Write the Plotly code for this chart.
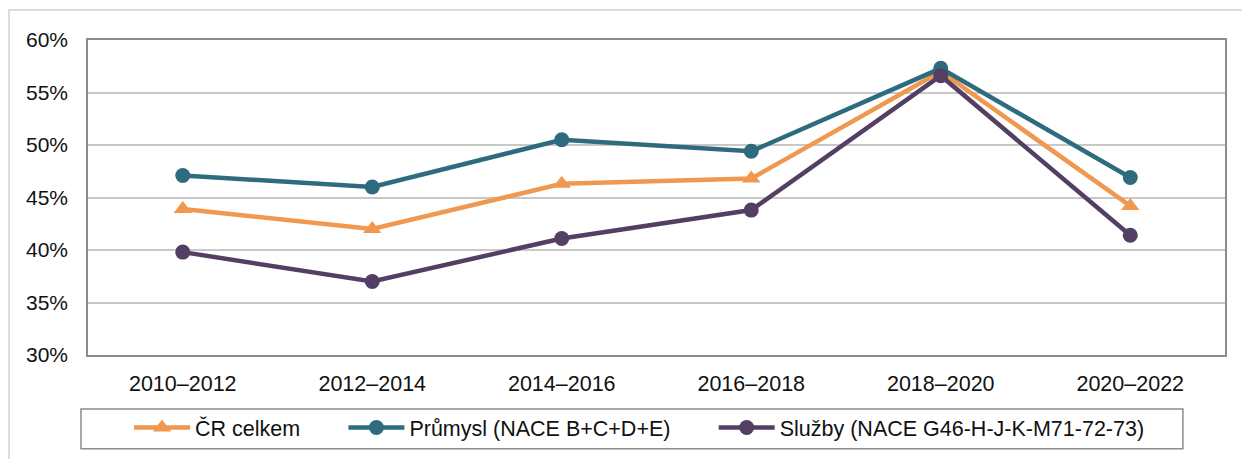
import plotly.graph_objects as go

categories = ["2010–2012", "2012–2014", "2014–2016", "2016–2018", "2018–2020", "2020–2022"]
cr_celkem = [43.9, 42.0, 46.3, 46.8, 57.0, 44.2]
prumysl = [47.1, 46.0, 50.5, 49.4, 57.3, 46.9]
sluzby = [39.8, 37.0, 41.1, 43.8, 56.6, 41.4]
y_ticks = [30, 35, 40, 45, 50, 55, 60]
y_tick_labels = ["30%", "35%", "40%", "45%", "50%", "55%", "60%"]
series_names = ["ČR celkem", "Průmysl (NACE B+C+D+E)", "Služby (NACE G46-H-J-K-M71-72-73)"]

ORANGE = "#F0984F"
TEAL = "#2F6B7F"
PURPLE = "#533F64"
FONT = "Liberation Sans, Arial, sans-serif"
PAD = "\u2002\u2002\u2002\u00a0"

fig = go.Figure()
fig.add_trace(go.Scatter(x=categories, y=cr_celkem, name=series_names[0] + PAD, mode="lines+markers",
                         line=dict(color=ORANGE, width=4.5),
                         marker=dict(symbol="triangle-up", size=16, color=ORANGE)))
fig.add_trace(go.Scatter(x=categories, y=prumysl, name=series_names[1] + PAD, mode="lines+markers",
                         line=dict(color=TEAL, width=4.5),
                         marker=dict(symbol="circle", size=15, color=TEAL)))
fig.add_trace(go.Scatter(x=categories, y=sluzby, name=series_names[2], mode="lines+markers",
                         line=dict(color=PURPLE, width=4.5),
                         marker=dict(symbol="circle", size=15, color=PURPLE)))

fig.update_layout(
    width=1242, height=459,
    margin=dict(l=88, r=17, t=40, b=104),
    paper_bgcolor="white", plot_bgcolor="white",
    font=dict(family=FONT, size=21, color="#111111"),
    showlegend=True,
    legend=dict(orientation="h", xref="container", yref="container",
                x=0.1039, xanchor="left", y=0.1133, yanchor="top",
                borderwidth=0, bgcolor="rgba(0,0,0,0)",
                font=dict(family=FONT, size=21.5, color="#111111"),
                itemwidth=56, traceorder="normal"),
    shapes=[
        dict(type="rect", xref="paper", yref="paper", x0=-0.0695, x1=1.3, y0=-0.6, y1=1.095,
             line=dict(color="#dcdcdc", width=2), layer="below"),
        dict(type="rect", xref="paper", yref="paper", x0=-0.00616, x1=0.963, y0=-0.298, y1=-0.1714,
             line=dict(color="#8c8c8c", width=1.5), layer="below"),
    ],
)
fig.update_xaxes(type="category", range=[-0.5, 5.5], showgrid=False,
                 showline=True, linecolor="#8c8c8c", linewidth=1.5, mirror=True,
                 ticks="", tickfont=dict(size=21.5), ticklabelstandoff=8)
fig.update_yaxes(range=[30, 60], tickvals=y_ticks, ticktext=y_tick_labels,
                 showgrid=True, gridcolor="#c8c8c8", gridwidth=1.5,
                 showline=True, linecolor="#8c8c8c", linewidth=1.5, mirror=True,
                 zeroline=False, ticks="", tickfont=dict(size=21), ticklabelstandoff=14)

fig.write_html("out.html", config={"displayModeBar": False},
               post_script="document.body.style.margin='0px';")
